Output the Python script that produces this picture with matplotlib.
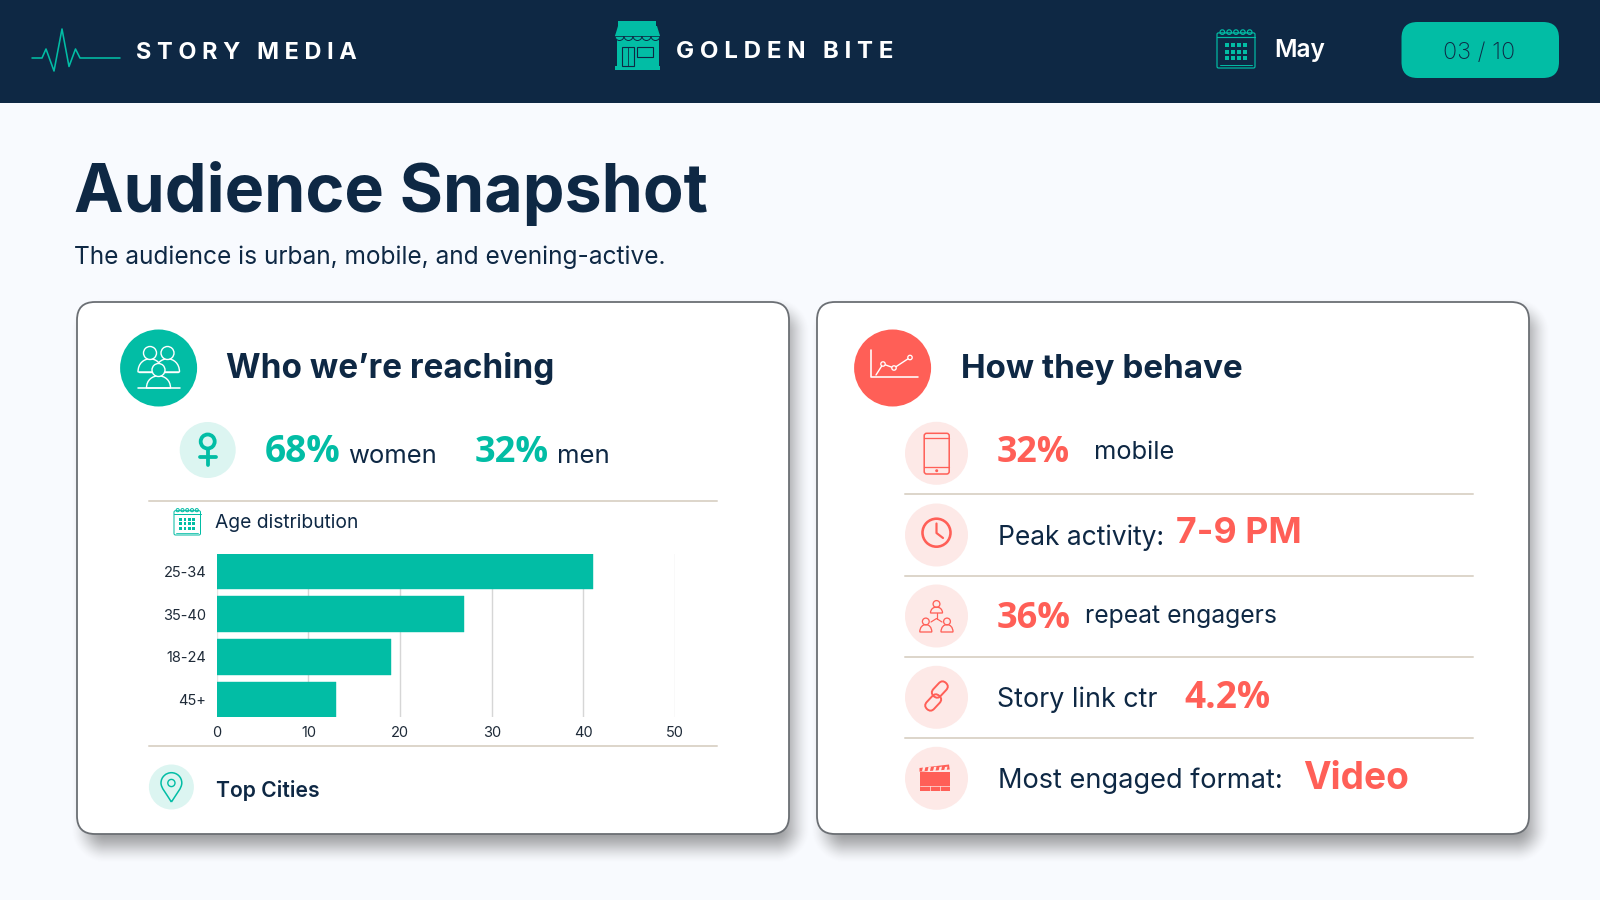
import matplotlib

matplotlib.use("Agg")
import matplotlib.pyplot as plt
import numpy as np
from matplotlib.patches import Circle, FancyBboxPatch, PathPatch, Polygon, Rectangle
from matplotlib.path import Path
from matplotlib.transforms import Affine2D

NAVY = "#0E2844"
TEAL = "#02BDA5"
CORAL = "#FF5F57"
PALE_TEAL = "#DCF5F1"
PALE_CORAL = "#FDE9E7"
RULE = "#DDD6CB"
BACKGROUND = "#F8FAFE"
FONT = "Inter"
NUMBER_FONT = "Open Sans"

age_labels = ["25-34", "35-40", "18-24", "45+"]
age_values = [41, 27, 19, 13]
age_ticks = [0, 10, 20, 30, 40, 50]

plt.rcParams["font.family"] = [FONT, "DejaVu Sans"]

fig = plt.figure(figsize=(16, 9), dpi=100, facecolor=BACKGROUND)
ax = fig.add_axes([0, 0, 1, 1])
ax.set_xlim(0, 1600)
ax.set_ylim(900, 0)
ax.set_autoscale_on(False)
ax.axis("off")
renderer = fig.canvas.get_renderer()


def label(x, baseline, text, x_end, color=NAVY, weight="normal", family=None):
    # size the text so it ends where the reference text ends
    t = ax.text(x - 1, baseline, text, color=color, weight=weight, fontsize=20, va="baseline", zorder=10)
    if family:
        t.set_family(family)
    width = t.get_window_extent(renderer).width
    t.set_fontsize(20 * (x_end - x + 1) / width)
    return t


def figure(x, baseline, text, x_end, color):
    return label(x, baseline, text, x_end, color=color, weight="bold", family=NUMBER_FONT)


def line(xs, ys, color, lw=1.5, **kwargs):
    ax.plot(xs, ys, color=color, lw=lw / 1.39, solid_capstyle="round", solid_joinstyle="round", zorder=8, **kwargs)


def ring(x, y, r, color, lw=1.5, fill="none"):
    ax.add_patch(Circle((x, y), r, fc=fill, ec=color, lw=lw / 1.39, zorder=8))


def round_box(x0, y0, x1, y1, radius, **kwargs):
    box = FancyBboxPatch(
        (x0 + radius, y0 + radius),
        x1 - x0 - 2 * radius,
        y1 - y0 - 2 * radius,
        boxstyle=f"round,pad={radius},rounding_size={radius}",
        **kwargs,
    )
    ax.add_patch(box)
    return box


def calendar(x0, y0, x1, y1, color, lw=1.2):
    w = x1 - x0
    h = y1 - y0
    round_box(x0, y0 + h * 0.1, x1, y1, 1.5, fc="none", ec=color, lw=lw / 1.39, zorder=8)
    line([x0, x1], [y0 + h * 0.21, y0 + h * 0.21], color, lw)
    line([x0 + w * 0.08, x1 - w * 0.08], [y1 - h * 0.07, y1 - h * 0.07], color, lw * 0.8)
    for i in range(5):
        cx = x0 + w * (0.14 + i * 0.18)
        ax.add_patch(Circle((cx, y0 + h * 0.08), w * 0.06, fc="none", ec=color, lw=lw / 1.39, zorder=8))
    for row in range(3):
        for col in range(4):
            ax.add_patch(
                Rectangle(
                    (x0 + w * (0.2 + col * 0.165), y0 + h * (0.36 + row * 0.17)),
                    w * 0.105,
                    h * 0.105,
                    fc=color,
                    ec="none",
                    zorder=8,
                )
            )


def shadow(x0, y0, x1, y1, radius=18, spread=17, strength=0.46):
    # rounded box distance field, faded out over `spread` pixels
    yy, xx = np.mgrid[0:900, 0:1600] + 0.5
    cx, cy = (x0 + x1) / 2, (y0 + y1) / 2
    dx = np.abs(xx - cx) - ((x1 - x0) / 2 - radius)
    dy = np.abs(yy - cy) - ((y1 - y0) / 2 - radius)
    dist = np.hypot(np.maximum(dx, 0), np.maximum(dy, 0)) + np.minimum(np.maximum(dx, dy), 0) - radius
    fade = np.clip(0.5 - dist / (2 * spread), 0, 1)
    rgba = np.zeros((900, 1600, 4))
    rgba[..., :3] = 0.18
    rgba[..., 3] = strength * fade * fade * (3 - 2 * fade)
    ax.imshow(rgba, extent=(0, 1600, 900, 0), aspect="auto", zorder=1, interpolation="nearest")


def card(x0, y0, x1, y1):
    shadow(x0 + 10, y0 + 12, x1 + 5, y1 + 13)
    round_box(x0, y0, x1, y1, 18, fc="white", ec="#6B6F74", lw=1.3, zorder=2)


def person(cx, head_y, head_r, base_y, half_w, color, lw=1.5, fill="none"):
    top = head_y + head_r * 0.9
    ctrl = base_y - (base_y - top) / 0.75
    verts = [
        (cx - half_w, base_y),
        (cx - half_w, ctrl),
        (cx + half_w, ctrl),
        (cx + half_w, base_y),
        (cx - half_w, base_y),
    ]
    codes = [Path.MOVETO, Path.CURVE4, Path.CURVE4, Path.CURVE4, Path.CLOSEPOLY]
    ax.add_patch(PathPatch(Path(verts, codes), fc=fill, ec=color, lw=lw / 1.39, zorder=8))
    ax.add_patch(Circle((cx, head_y), head_r, fc=fill, ec=color, lw=lw / 1.39, zorder=8))


# header band
ax.add_patch(Rectangle((0, 0), 1600, 103, fc=NAVY, ec="none", zorder=1))

# pulse logo
pulse_x = [32, 42, 46, 54, 62, 69, 75.5, 80, 120]
pulse_y = [58, 58, 49, 71, 29, 66.5, 49, 58, 58]
line(pulse_x, pulse_y, TEAL, 1.6)
label(137, 59, "S T O R Y   M E D I A", 357, color="white", weight="bold")

# store logo
ax.add_patch(Rectangle((618, 21), 38, 4.5, fc=TEAL, ec="none", zorder=7))
ax.add_patch(Rectangle((617, 36), 42, 31, fc=TEAL, ec="none", zorder=7))
ax.add_patch(Rectangle((615, 66), 45, 3.5, fc=TEAL, ec="none", zorder=7))
for i in range(5):
    ax.add_patch(Circle((619.5 + i * 9, 36), 4.5, fc=TEAL, ec=NAVY, lw=0.7, zorder=7))
ax.add_patch(Polygon([(618, 26), (657, 26), (660, 36), (615, 36)], fc=TEAL, ec="none", zorder=7))
line([615, 660], [36, 36], NAVY, 0.8)
ax.add_patch(Rectangle((621.5, 47), 12.5, 19, fc="none", ec=NAVY, lw=0.8, zorder=8))
line([628, 628], [47, 66], NAVY, 0.8)
ax.add_patch(Rectangle((637, 47), 16, 10, fc="none", ec=NAVY, lw=0.8, zorder=8))
label(676.5, 57.5, "G O L D E N   B I T E", 893, color="white", weight="bold")

calendar(1217, 29, 1255, 68, TEAL)
label(1275.5, 57, "May", 1325.5, color="white", weight="semibold")

# page pill
round_box(1401.5, 22, 1559, 78, 16, fc=TEAL, ec="none", zorder=7)
label(1444, 59, "03 / 10", 1515, weight="light")

# title block
label(75.5, 212, "Audience Snapshot", 710, weight="bold")
label(75.5, 264, "The audience is urban, mobile, and evening-active.", 666)

card(77, 302, 789, 834)
card(817, 302, 1529, 834)

# left card heading
ax.add_patch(Circle((158.6, 368), 38.5, fc=TEAL, ec="none", zorder=7))
person(150, 353, 6.5, 372, 12, "white", 1.4, fill=TEAL)
person(167.5, 353, 6.5, 372, 12, "white", 1.4, fill=TEAL)
line([139, 178], [372, 372], "white", 1.4)
person(158.5, 370, 6.5, 388, 12, "white", 1.4, fill=TEAL)
line([138, 179.5], [388, 388], "white", 1.6)
label(227.5, 378, "Who we’re reaching", 554.6, weight="bold")

# gender split
ax.add_patch(Circle((207.7, 450), 28, fc=PALE_TEAL, ec="none", zorder=7))
ring(207.7, 441.5, 7, TEAL, 3.8)
line([207.7, 207.7], [449, 464.5], TEAL, 3.8)
line([200, 215.5], [457, 457], TEAL, 3.8)
figure(265.8, 461.7, "68%", 341, TEAL)
label(348.8, 463, "women", 436.6)
figure(476, 461.7, "32%", 549, TEAL)
label(558.3, 463, "men", 610)

line([149, 717], [501, 501], RULE, 2)
line([149, 717], [746, 746], RULE, 2)

calendar(174, 508, 200.5, 535, TEAL, 1)
label(215.7, 528, "Age distribution", 358)

# age chart
chart = fig.add_axes([216.8 / 1600, 1 - 717.3 / 900, (675 - 216.8) / 1600, (717.3 - 553.7) / 900])
chart.patch.set_visible(False)
chart.barh(
    range(len(age_values)),
    age_values,
    height=0.83,
    color=TEAL,
    edgecolor=TEAL,
    linewidth=0.3,
    joinstyle="round",
    zorder=3,
)
chart.set_xlim(0, 50)
chart.set_ylim(3.416, -0.416)
chart.set_xticks(age_ticks)
chart.set_yticks(range(len(age_labels)))
chart.set_yticklabels(age_labels)
chart.tick_params(axis="both", length=0, labelsize=10.5, labelcolor="#1E2A38")
chart.tick_params(axis="y", pad=7.5)
chart.tick_params(axis="x", pad=6)
chart.grid(axis="x", color="#D6D6D6", lw=1)
chart.xaxis.get_gridlines()[0].set_color("#E4E4E4")
chart.xaxis.get_gridlines()[-1].set_color("#E2E2E2")
chart.set_axisbelow(True)
for spine in chart.spines.values():
    spine.set_visible(False)

# top cities
ax.add_patch(Circle((171.4, 787), 22.5, fc=PALE_TEAL, ec="none", zorder=7))
pin = Path(
    [
        (171.4, 802),
        (166, 793),
        (161, 788),
        (161, 783),
        (161, 777),
        (166, 772.7),
        (171.4, 772.7),
        (177, 772.7),
        (181.8, 777),
        (181.8, 783),
        (181.8, 788),
        (177, 793),
        (171.4, 802),
    ],
    [Path.MOVETO] + [Path.CURVE4] * 12,
)
ax.add_patch(PathPatch(pin, fc="none", ec=TEAL, lw=1.1, zorder=8))
ring(171.4, 783, 3.6, TEAL, 1.4)
label(217, 796.7, "Top Cities", 319.6, weight="semibold")

# right card heading
ax.add_patch(Circle((892.6, 368), 38.5, fc=CORAL, ec="none", zorder=7))
line([871, 871, 917.6], [350, 377, 377], "white", 1.6)
trend_x = [876, 883, 894, 910]
trend_y = [375, 364, 368, 357.5]
line(trend_x, trend_y, "white", 1.4)
for px, py in zip(trend_x[1:], trend_y[1:]):
    ring(px, py, 2.2, "white", 1.3, fill=CORAL)
label(962, 378, "How they behave", 1243, weight="bold")

# behaviour rows
for y in [453.3, 535, 616, 697.3, 778.3]:
    ax.add_patch(Circle((936.5, y), 31.5, fc=PALE_CORAL, ec="none", zorder=7))
for y in [493.7, 575.7, 657, 738.3]:
    line([905, 1473], [y, y], RULE, 2)

# phone
round_box(924.2, 433.3, 949.2, 474, 2.5, fc="none", ec=CORAL, lw=1.1, zorder=8)
line([924.2, 949.2], [437.5, 437.5], CORAL, 1.3)
line([924.2, 949.2], [467.3, 467.3], CORAL, 1.3)
ax.add_patch(Circle((936.7, 470.7), 1.5, fc=CORAL, ec="none", zorder=8))

# clock
ring(936.5, 532.7, 14, CORAL, 2.6)
line([936.5, 936.5, 943], [523.5, 533, 538], CORAL, 2.2)

# network of people
person(936.5, 604, 3.4, 613, 6, CORAL, 1.3)
person(925.8, 621.5, 3.4, 632, 6, CORAL, 1.3)
person(947, 621.5, 3.4, 632, 6, CORAL, 1.3)
line([936.5, 936.5], [613, 618.5], CORAL, 1.2)
line([931, 936.5, 942], [622, 618.5, 622], CORAL, 1.2)

# link
rotation = Affine2D().rotate_deg_around(936.5, 696, -47) + ax.transData
for cx, cy in [(929.5, 698), (943.5, 694)]:
    box = FancyBboxPatch(
        (cx - 6.5, cy - 2.5),
        13,
        5,
        boxstyle="round,pad=2.5,rounding_size=5",
        fc="none",
        ec=CORAL,
        lw=1.4,
        zorder=8,
    )
    box.set_transform(rotation)
    ax.add_patch(box)

# clapper
ax.add_patch(Rectangle((919.5, 771.7), 30.2, 19.3, fc=CORAL, ec="none", zorder=8))
ax.add_patch(Polygon([(919.5, 768), (949, 764.5), (949.7, 769.5), (919.5, 771.7)], fc=CORAL, ec="none", zorder=8))
for i in range(5):
    sx = 923 + i * 5.5
    ax.add_patch(Polygon([(sx, 767), (sx + 2.5, 766.6), (sx + 1.5, 771), (sx - 1, 771.2)], fc=PALE_CORAL, ec="none", zorder=9))
line([919.5, 949.7], [785.5, 785.5], PALE_CORAL, 0.7)
line([930, 930], [785.5, 791], PALE_CORAL, 0.7)
line([940, 940], [785.5, 791], PALE_CORAL, 0.7)

figure(997.4, 461.7, "32%", 1069.6, CORAL)
label(1095.5, 459, "mobile", 1174.8)
label(998.8, 545, "Peak activity:", 1164)
label(1177, 543.3, "7-9 PM", 1301.7, color=CORAL, weight="bold")
figure(997.4, 628.3, "36%", 1070.5, CORAL)
label(1086, 622.7, "repeat engagers", 1277)
label(997.8, 706.7, "Story link ctr", 1156.9)
figure(1185, 707.7, "4.2%", 1270, CORAL)
label(998.8, 788.3, "Most engaged format:", 1282)
label(1304, 789, "Video", 1409, color=CORAL, weight="bold")

fig.savefig("out.png", dpi=100, facecolor=BACKGROUND)
